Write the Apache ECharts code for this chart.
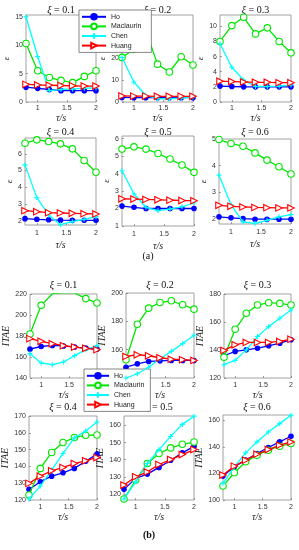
<!DOCTYPE html>
<html><head><meta charset="utf-8">
<script src="https://cdn.jsdelivr.net/npm/echarts@6/dist/echarts.min.js"></script>
<style>html,body{margin:0;padding:0;background:#fff}#c{width:299px;height:550px}</style>
</head><body><div id="c"></div>
<script>
// ---------- DATA ----------
const tau = [0.8, 1.0, 1.2, 1.4, 1.6, 1.8, 2.0];
const xiLabels = ['0.1', '0.2', '0.3', '0.4', '0.5', '0.6'];
const seriesNames = ['Ho', 'Maclaurin', 'Chen', 'Huang'];
const xTicks = [1, 1.5, 2];

// epsilon (figure a), one row per xi
const epsHo = [
  [2.6, 2.4, 2.2, 2.0, 2.0, 2.0, 2.0],
  [2.1, 2.0, 2.0, 2.0, 2.0, 2.0, 2.0],
  [2.1, 2.05, 2.0, 2.0, 2.0, 2.0, 2.0],
  [2.12, 2.08, 2.05, 2.03, 2.02, 2.02, 2.02],
  [2.14, 2.07, 2.0, 2.0, 2.0, 2.0, 2.0],
  [2.09, 2.05, 2.02, 2.0, 2.0, 2.0, 2.0]
];
const epsMaclaurin = [
  [10.3, 5.5, 4.3, 3.8, 3.4, 4.5, 5.5],
  [20.5, 24.2, 33, 17.4, 13.8, 20.8, 17],
  [8.0, 10.1, 11.2, 9.0, 9.8, 8.0, 6.5],
  [6.64, 6.84, 6.74, 6.6, 6.3, 5.6, 4.9],
  [5.4, 5.53, 5.4, 5.15, 4.83, 4.49, 4.07],
  [4.98, 4.83, 4.73, 4.48, 4.21, 3.96, 3.69]
];
const epsChen = [
  [15, 8, 2.0, 2.2, 2.3, 2.4, 2.5],
  [20.5, 9.2, 3.1, 1.5, 1.5, 1.8, 2.3],
  [7.7, 4.6, 2.9, 2.05, 2.05, 2.1, 2.25],
  [5.34, 3.38, 2.34, 1.76, 1.94, 2.08, 2.24],
  [4.16, 2.83, 2.07, 1.88, 1.97, 2.1, 2.33],
  [3.65, 2.54, 1.9, 1.84, 1.96, 2.09, 2.17]
];
const epsHuang = [
  [3.1, 3.0, 2.95, 2.9, 2.85, 2.8, 2.8],
  [2.8, 2.7, 2.7, 2.6, 2.6, 2.6, 2.6],
  [2.75, 2.7, 2.65, 2.6, 2.6, 2.55, 2.55],
  [2.6, 2.54, 2.48, 2.46, 2.44, 2.42, 2.4],
  [2.56, 2.54, 2.52, 2.5, 2.48, 2.46, 2.45],
  [2.52, 2.48, 2.46, 2.44, 2.43, 2.42, 2.42]
];
const epsYTicks = [[0, 5, 10, 15], [0, 10, 20, 30, 40], [0, 2, 4, 6, 8, 10], [2, 3, 4, 5, 6], [1, 2, 3, 4, 5, 6], [2, 3, 4, 5]];
const epsYMin = [0, 0, 0, 1.74, 1, 1.82];
const epsYMax = [15.3, 40, 11.5, 6.95, 6.15, 5.0];

// ITAE (figure b)
const itaeHo = [
  [167.5, 170, 171, 170.5, 169.5, 168.5, 167.5],
  [147.6, 150, 151.7, 152.1, 152.4, 152.4, 152.4],
  [135.9, 139, 140.1, 141.3, 143, 144.9, 147.3],
  [126.3, 130.9, 134.2, 136.2, 138.8, 143.1, 147.3],
  [122.7, 129.1, 131.6, 135.5, 139.7, 144, 147.8],
  [118, 125, 130, 135, 139.5, 143.75, 148]
];
const itaeMaclaurin = [
  [181.9, 209.2, 220.3, 221, 221, 215.6, 211.4],
  [152.9, 177.9, 189.3, 193.3, 194.5, 191.7, 188.6],
  [134.9, 154.8, 166.2, 172.1, 173.8, 173.3, 172.1],
  [123, 138.8, 148.3, 154.2, 157.2, 158.5, 158.7],
  [117.1, 128.1, 137.8, 143.6, 146.9, 149, 150.3],
  [110.5, 120.5, 128.75, 133.75, 137.5, 140.5, 142.5]
];
const itaeChen = [
  [163.2, 154.3, 152.7, 155.2, 161.3, 167, 170.8],
  [140, 143, 147.6, 153.6, 158.8, 164.3, 170.2],
  [129.5, 132.6, 140.1, 149.6, 156.7, 162.7, 168.6],
  [120.6, 128.3, 137.8, 147.7, 157, 161.1, 166.4],
  [117.1, 127.1, 137.8, 145.9, 153.6, 160.6, 165.4],
  [112.5, 125, 135.5, 143.75, 151.25, 157.5, 163.75]
];
const itaeHuang = [
  [177.5, 174.9, 172.7, 170.8, 169.5, 168.3, 167],
  [155.2, 156.4, 155.7, 154.3, 153.3, 152.9, 152.4],
  [139.7, 143.7, 145.4, 145.4, 145.4, 146.1, 147.7],
  [129.9, 134.2, 137.4, 139.4, 141.7, 143.3, 145.3],
  [125.2, 130, 132.9, 137.2, 140.1, 143, 145.9],
  [118.75, 125.5, 130, 134.5, 138, 141.25, 143.75]
];
const itaeYTicks = [[140, 160, 180, 200, 220], [140, 160, 180, 200], [120, 140, 160, 180], [120, 130, 140, 150, 160, 170], [120, 130, 140, 150, 160], [100, 120, 140, 160]];
const itaeYMin = [140, 140, 120, 120, 116.5, 100];
const itaeYMax = [220, 200, 180, 170, 165.5, 164];

// ---------- LAYOUT / STYLE ----------
const gridBoxes = [
  [26, 15, 70, 87], [122, 15, 71, 87], [220, 15, 71, 87],
  [25, 138, 71, 87], [122, 136, 72, 90], [219, 139, 72, 85],
  [30, 294, 67, 84], [126, 293, 68, 85], [224, 294, 67, 84],
  [29, 416, 68, 84], [124, 416, 70, 84], [223, 415, 68, 85]
];
const titleY = [10, 10, 10, 132, 132, 132, 285, 285, 285, 407, 407, 407];
const xLabelMargin = [3, 3, 3, 5, 5, 5, 4, 4, 4, 4, 4, 4];
const xNameGap = [10, 10, 10, 15, 15, 15, 11, 11, 11, 12, 12, 12];
const yNameGap = [11.5, 1.5, 0, 4.5, 5.5, 2.5, 12, 12.7, 10.7, 14, 11, 14];

const styles = [
  { color: '#0000ff', symbol: 'circle', size: 4.5, fill: '#0000ff' },
  { color: '#00e600', symbol: 'circle', size: 6.5, fill: '#ffffff' },
  { color: '#00ffff', symbol: 'path://M5,0L5,10M0,5L10,5', size: 5, fill: '#00ffff' },
  { color: '#ff0000', symbol: 'path://M0,0L10,5L0,10Z', size: 6.5, fill: '#ffffff' }
];

const tickFont = { fontSize: 7, fontFamily: 'Liberation Sans', color: '#333' };
const serifItalic = { fontFamily: 'Liberation Serif', fontStyle: 'italic', fontSize: 10, color: '#222' };

const grids = [], xAxes = [], yAxes = [], series = [], graphics = [];

for (let p = 0; p < 12; p++) {
  const isEps = p < 6;
  const k = p % 6;
  const g = gridBoxes[p];
  const sets = isEps
    ? [epsHo[k], epsMaclaurin[k], epsChen[k], epsHuang[k]]
    : [itaeHo[k], itaeMaclaurin[k], itaeChen[k], itaeHuang[k]];
  const yTicks = isEps ? epsYTicks[k] : itaeYTicks[k];

  grids.push({
    left: g[0], top: g[1], width: g[2], height: g[3],
    show: true, borderColor: '#8a8a8a', borderWidth: 0.8, backgroundColor: '#fff',
    containLabel: false, outerBoundsMode: 'none'
  });
  xAxes.push({
    gridIndex: p, type: 'value', min: 0.8, max: 2,
    axisLine: { show: false },
    axisTick: { inside: true, length: 2, customValues: xTicks, lineStyle: { color: '#666', width: 0.6 } },
    axisLabel: Object.assign({ customValues: xTicks, margin: xLabelMargin[p] }, tickFont),
    splitLine: { show: false },
    name: 'τ/s', nameLocation: 'middle', nameGap: xNameGap[p], nameTextStyle: serifItalic
  });
  yAxes.push({
    gridIndex: p, type: 'value',
    min: isEps ? epsYMin[k] : itaeYMin[k],
    max: isEps ? epsYMax[k] : itaeYMax[k],
    axisLine: { show: false },
    axisTick: { inside: true, length: 2, customValues: yTicks, lineStyle: { color: '#666', width: 0.6 } },
    axisLabel: Object.assign({ customValues: yTicks, margin: 3 }, tickFont),
    splitLine: { show: false },
    name: isEps ? 'ε' : 'ITAE', nameLocation: 'middle', nameRotate: 90, nameGap: yNameGap[p],
    nameTextStyle: Object.assign({}, serifItalic, { fontSize: isEps ? 9 : 10 })
  });
  sets.forEach((vals, s) => {
    const st = styles[s];
    series.push({
      type: 'line', name: seriesNames[s], xAxisIndex: p, yAxisIndex: p,
      data: tau.map((t, i) => [t, vals[i]]),
      symbol: st.symbol, symbolSize: st.size, showAllSymbol: true,
      lineStyle: { color: st.color, width: 1.3 },
      itemStyle: { color: st.fill, borderColor: st.color, borderWidth: 1.1 },
      emphasis: { disabled: true }, animation: false, z: 2 + s
    });
  });
  graphics.push({
    type: 'text', x: g[0] + g[2] / 2, y: titleY[p],
    style: {
      text: '{i|ξ} = ' + xiLabels[k], align: 'center', verticalAlign: 'middle',
      font: '10px "Liberation Serif"', fill: '#111',
      rich: { i: { fontStyle: 'italic', fontSize: 10, fontFamily: 'Liberation Serif', fill: '#111' } }
    }
  });
}

graphics.push({ type: 'text', x: 148, y: 256, style: { text: '(a)', align: 'center', verticalAlign: 'middle', font: '10px "Liberation Serif"', fill: '#111' } });
graphics.push({ type: 'text', x: 149, y: 535, style: { text: '(b)', align: 'center', verticalAlign: 'middle', font: 'bold 10px "Liberation Serif"', fill: '#111' } });

const legendBase = {
  orient: 'vertical', data: seriesNames, selectedMode: false,
  itemHeight: 7, itemGap: 2, backgroundColor: '#fff',
  borderColor: '#555', borderWidth: 0.7, borderRadius: 0,
  textStyle: { fontSize: 7, fontFamily: 'Liberation Sans', color: '#222', lineHeight: 7 }
};

const option = {
  animation: false,
  backgroundColor: '#fff',
  grid: grids, xAxis: xAxes, yAxis: yAxes, series: series,
  legend: [
    Object.assign({}, legendBase, { left: 79, top: 10, itemWidth: 24, padding: [3, 10, 3, 2] }),
    Object.assign({}, legendBase, { left: 84, top: 369, itemWidth: 22, padding: [3, 6, 3, 2] })
  ],
  graphic: graphics
};

const chart = echarts.init(document.getElementById('c'), null, { renderer: 'canvas' });
chart.setOption(option);
</script></body></html>
